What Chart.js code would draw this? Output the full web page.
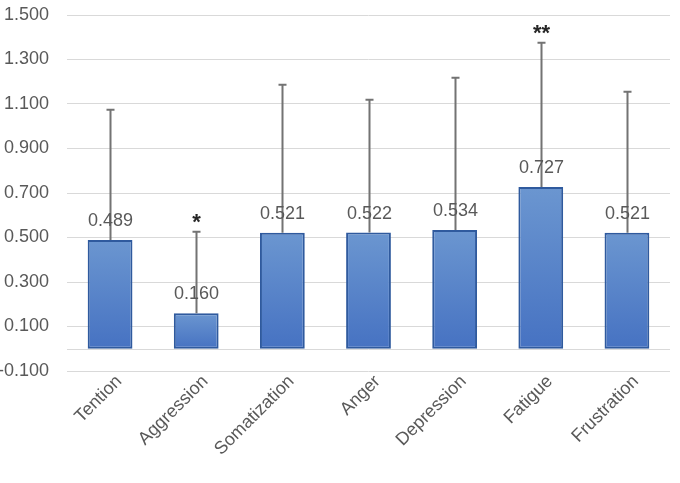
<!DOCTYPE html>
<html>
<head>
<meta charset="utf-8">
<script src="https://cdn.jsdelivr.net/npm/chart.js@4.4.1/dist/chart.umd.min.js"></script>
<style>
    html, body { margin: 0; padding: 0; background: #ffffff; }
    canvas { display: block; }
</style>
</head>
<body>
<canvas id="scoreChart" width="680" height="483"></canvas>
<script>
// Data
const categories = ['Tention', 'Aggression', 'Somatization', 'Anger', 'Depression', 'Fatigue', 'Frustration'];
const means = [0.489, 0.160, 0.521, 0.522, 0.534, 0.727, 0.521];
const errors = [0.585, 0.366, 0.666, 0.597, 0.684, 0.648, 0.634];
const marks = ['', '*', '', '', '', '**', ''];
const yTicks = [-0.1, 0.1, 0.3, 0.5, 0.7, 0.9, 1.1, 1.3, 1.5];

const textColor = '#595959';
const gridColor = '#d9d9d9';
const fontFamily = '"Liberation Sans", Arial, sans-serif';

// Zero line, error bars, value labels and significance marks
const extrasPlugin = {
    id: 'extras',
    beforeDatasetsDraw(chart) {
        const { ctx, chartArea, scales } = chart;
        const y0 = Math.round(scales.y.getPixelForValue(0)) + 0.5;
        ctx.save();
        ctx.strokeStyle = gridColor;
        ctx.lineWidth = 1;
        ctx.beginPath();
        ctx.moveTo(chartArea.left, y0);
        ctx.lineTo(chartArea.right, y0);
        ctx.stroke();
        ctx.restore();
    },
    afterDatasetsDraw(chart) {
        const { ctx, scales } = chart;
        const meta = chart.getDatasetMeta(0);
        ctx.save();
        meta.data.forEach(function(bar, i) {
            const cx = Math.round(bar.x) + 0.5;
            const top = scales.y.getPixelForValue(means[i] + errors[i]);

            // error bar
            ctx.strokeStyle = '#737373';
            ctx.lineWidth = 2;
            ctx.beginPath();
            ctx.moveTo(cx, bar.y);
            ctx.lineTo(cx, top);
            ctx.moveTo(cx - 4, top);
            ctx.lineTo(cx + 4, top);
            ctx.stroke();

            // value label
            ctx.fillStyle = textColor;
            ctx.font = '18px ' + fontFamily;
            ctx.textAlign = 'center';
            ctx.textBaseline = 'alphabetic';
            ctx.fillText(means[i].toFixed(3), cx, bar.y - 14);

            // significance mark
            if (marks[i]) {
                ctx.fillStyle = '#262626';
                ctx.font = 'bold 22px ' + fontFamily;
                ctx.fillText(marks[i], cx, top - 3);
            }
        });
        ctx.restore();
    }
};

const ctx = document.getElementById('scoreChart');

new Chart(ctx, {
    type: 'bar',
    data: {
        labels: categories,
        datasets: [{
            data: means,
            backgroundColor: function(context) {
                const chart = context.chart;
                const y = chart.scales.y;
                if (!chart.chartArea || !y || context.raw === undefined) return '#5585cc';
                const top = y.getPixelForValue(context.raw);
                const bottom = y.getPixelForValue(0);
                const g = chart.ctx.createLinearGradient(0, top, 0, bottom);
                g.addColorStop(0, '#6b96d0');
                g.addColorStop(1, '#4672c2');
                return g;
            },
            borderColor: '#2f5a9e',
            borderWidth: 2,
            borderSkipped: false,
            categoryPercentage: 1,
            barPercentage: 0.52
        }]
    },
    options: {
        responsive: false,
        animation: false,
        devicePixelRatio: 1,
        layout: {
            padding: { top: 15, right: 10, left: 0, bottom: 0 }
        },
        plugins: {
            legend: { display: false },
            tooltip: { enabled: false }
        },
        scales: {
            x: {
                grid: { display: false, drawTicks: false },
                border: { display: false },
                ticks: {
                    color: textColor,
                    font: { family: fontFamily, size: 18 },
                    maxRotation: 45,
                    minRotation: 45,
                    padding: 0,
                    labelOffset: 9
                },
                afterFit: function(scale) {
                    scale.height = 112;
                }
            },
            y: {
                min: -0.1,
                max: 1.5,
                grid: {
                    color: gridColor,
                    lineWidth: 1,
                    drawTicks: true,
                    tickLength: 18,
                    tickColor: 'rgba(0,0,0,0)'
                },
                border: { display: false },
                ticks: {
                    color: textColor,
                    font: { family: fontFamily, size: 18 },
                    padding: 0,
                    callback: function(value) {
                        return value.toFixed(3);
                    }
                },
                afterBuildTicks: function(scale) {
                    scale.ticks = yTicks.map(v => ({ value: v }));
                },
                afterFit: function(scale) {
                    scale.width = 67;
                }
            }
        }
    },
    plugins: [extrasPlugin]
});
</script>
</body>
</html>
